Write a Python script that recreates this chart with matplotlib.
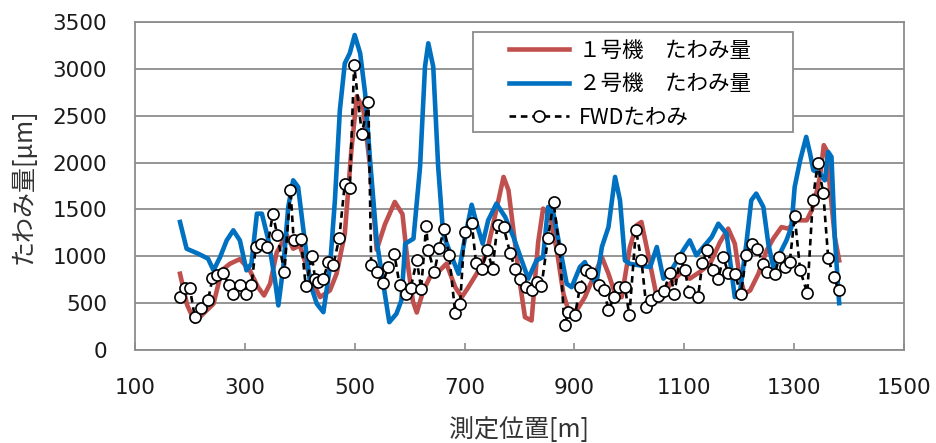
import numpy as np
import matplotlib
matplotlib.use("Agg")
import matplotlib.pyplot as plt
from matplotlib.patches import Rectangle

plt.rcParams['font.family'] = ['DejaVu Sans', 'Noto Sans CJK JP']

# FWD measured deflection (circles)
fwd_x = [182, 191, 200, 209, 221, 233, 241, 250, 260, 272, 279, 291, 302, 312,
         320, 329, 341, 351, 359, 372, 383, 389, 402, 411, 422, 428, 434, 443,
         452, 461, 472, 482, 491, 499, 513, 525, 530, 541, 551, 561, 572, 582,
         593, 602, 613, 621, 630, 634, 645, 654, 663, 672, 683, 692, 700, 713,
         721, 732, 741, 751, 760, 771, 783, 792, 801, 812, 822, 831, 840, 852,
         862, 873, 882, 889, 901, 910, 921, 931, 944, 954, 962, 972, 982, 992,
         1000, 1012, 1022, 1031, 1040, 1053, 1063, 1074, 1082, 1092, 1101, 1109,
         1125, 1133, 1142, 1152, 1162, 1171, 1180, 1192, 1203, 1213, 1223, 1233,
         1243, 1251, 1265, 1273, 1283, 1292, 1301, 1311, 1324, 1334, 1343, 1353,
         1362, 1372, 1381]
fwd_y = [564, 657, 657, 350, 443, 529, 764, 796, 817, 689, 600, 689, 593, 689,
         1099, 1135, 1099, 1455, 1224, 832, 1712, 1170, 1188, 679, 999, 761, 725, 761,
         938, 903, 1199, 1776, 1733, 3040, 2310, 2648, 903, 832, 714, 885, 1028, 689,
         600, 664, 956, 654, 1320, 1063, 832, 1092, 1295, 1010, 393, 494, 1259, 1355,
         928, 868, 1071, 868, 1338, 1312, 1035, 868, 761, 671, 636, 725, 679, 1199,
         1580, 1082, 262, 404, 369, 671, 850, 821, 689, 643, 422, 564, 671, 671,
         369, 1284, 956, 458, 529, 572, 628, 821, 600, 985, 850, 618,
         564, 928, 1071, 850, 761, 992, 821, 814, 593, 1017, 1135, 1081,
         921, 832, 814, 992, 885, 938, 1427, 850, 607, 1598, 1996, 1676,
         985, 778, 643]

# machine No.1 deflection
m1_x = [182, 195, 209, 243, 258, 273, 291, 309, 324, 335, 346, 358, 367, 376,
        388, 400, 419, 437, 455, 467, 482, 494, 504, 516, 528, 540, 555, 573,
        587, 597, 606, 613, 625, 637, 655, 667, 683, 695, 707, 722, 740, 755,
        771, 780, 789, 801, 810, 822, 834, 843, 855, 868, 880, 889, 904, 919,
        940, 950, 962, 974, 986, 1001, 1013, 1022, 1034, 1050, 1062, 1074, 1098,
        1110, 1128, 1147, 1165, 1180, 1192, 1201, 1210, 1220, 1235, 1250, 1262,
        1277, 1289, 1305, 1323, 1332, 1341, 1347, 1354, 1359, 1365, 1374, 1382]
m1_y = [814, 480, 300, 494, 850, 921, 970, 850, 671, 582, 707, 1040, 1135, 1230,
        1081, 1117, 778, 564, 636, 814, 1241, 2132, 2710, 2560, 1954, 1070, 1340, 1580,
        1450, 900, 520, 400, 636, 778, 850, 921, 671, 564, 671, 814, 1028, 1419,
        1847, 1705, 1277, 707, 350, 315, 1150, 1509, 1450, 1063, 600, 422, 422, 564,
        850, 992, 814, 600, 564, 1099, 1330, 1366, 1028, 564, 564, 707, 850,
        761, 832, 921, 1150, 1295, 1135, 778, 600, 636, 814, 1063, 1188,
        1312, 1295, 1384, 1384, 1491, 1687, 1847, 2186, 2132, 1740, 1206, 956]

# machine No.2 deflection
m2_x = [182, 194, 215, 233, 243, 255, 267, 279, 291, 303, 312, 322, 331, 343,
        355, 361, 370, 379, 388, 397, 406, 419, 431, 443, 455, 464, 473, 482,
        491, 500, 510, 519, 528, 540, 552, 563, 576, 585, 592, 607, 619, 628,
        634, 643, 652, 661, 673, 689, 701, 713, 722, 733, 743, 758, 774, 789,
        804, 816, 831, 843, 852, 862, 886, 895, 910, 919, 931, 940, 950, 962,
        974, 983, 992, 1001, 1038, 1050, 1062, 1080, 1098, 1110, 1122, 1150,
        1162, 1177, 1192, 1201, 1213, 1222, 1231, 1244, 1253, 1262, 1274, 1286,
        1295, 1301, 1311, 1322, 1329, 1335, 1347, 1356, 1362, 1368, 1374, 1382]
m2_y = [1366, 1081, 1028, 975, 850, 992, 1170, 1277, 1170, 850, 921, 1455, 1455, 1170,
        743, 476, 885, 1526, 1811, 1740, 1312, 707, 494, 404, 885, 1598, 2560, 3059,
        3166, 3361, 3166, 2738, 2025, 1170, 707, 297, 387, 529, 1135, 1188, 1954, 3023,
        3273, 3023, 1954, 1241, 1050, 814, 1206, 1550, 1348, 1135, 1384, 1562, 1419, 1206,
        956, 761, 956, 992, 1526, 1450, 707, 671, 885, 938, 778, 707, 1099, 1312,
        1847, 1598, 956, 920, 885, 1099, 761, 885, 1063, 1170, 1010, 1206,
        1348, 1241, 564, 600, 1135, 1598, 1669, 1526, 1135, 885, 1028, 1170,
        1312, 1740, 2025, 2274, 2097, 1918, 1883, 1811, 2114, 2061, 1206, 500]

fig = plt.figure(figsize=(9.36, 4.43), dpi=100)
ax = fig.add_axes([0.1442, 0.2099, 0.8216, 0.7404])

ax.plot(m1_x, m1_y, color='#C0504D', lw=3.3, solid_joinstyle='round',
        label='１号機　たわみ量', zorder=3)
ax.plot(m2_x, m2_y, color='#0070C0', lw=3.3, solid_joinstyle='round',
        label='２号機　たわみ量', zorder=4)
ax.plot(fwd_x, fwd_y, color='black', lw=1.9, ls=(0, (2.5, 1.8)), marker='o',
        ms=8, mfc='white', mec='black', mew=1.2, label='FWDたわみ', zorder=5)

ax.set_xlim(100, 1500)
ax.set_ylim(0, 3500)
ax.set_xticks(np.arange(100, 1501, 200))
ax.set_yticks(np.arange(0, 3501, 500))
ax.yaxis.grid(True, color='#8c8c8c', lw=1.3)
ax.set_axisbelow(True)
for s in ax.spines.values():
    s.set_color('#8c8c8c')
    s.set_linewidth(1.3)

ax.tick_params(axis='x', direction='in', length=5, width=1.2, color='#8c8c8c',
               pad=20, labelsize=15.5, labelcolor='#1a1a1a')
ax.tick_params(axis='y', length=0, pad=20, labelsize=15.5, labelcolor='#1a1a1a')

cjk = ['Noto Sans CJK JP', 'DejaVu Sans']
ax.set_xlabel('測定位置[m]', family=cjk, fontsize=18, color='#333333')
ax.xaxis.set_label_coords(0.5, -0.205)
ax.set_ylabel('たわみ量[μm]', family=cjk, fontsize=18, color='#333333')
ax.yaxis.set_label_coords(-0.128, 0.5)

# legend with a plain square frame
box = Rectangle((0.4395, 0.664), 0.4162, 0.3055, transform=ax.transAxes,
                fill=True, facecolor='white', edgecolor='#8c8c8c', lw=1.3, zorder=6)
ax.add_patch(box)
leg = ax.legend(loc='upper left', bbox_to_anchor=(0.475, 0.972), frameon=False,
                prop={'family': cjk, 'size': 15.5}, handlelength=2.8,
                handletextpad=0.45, labelspacing=0.53, borderaxespad=0)
leg.set_zorder(7)

fig.savefig('out.png', dpi=100)
